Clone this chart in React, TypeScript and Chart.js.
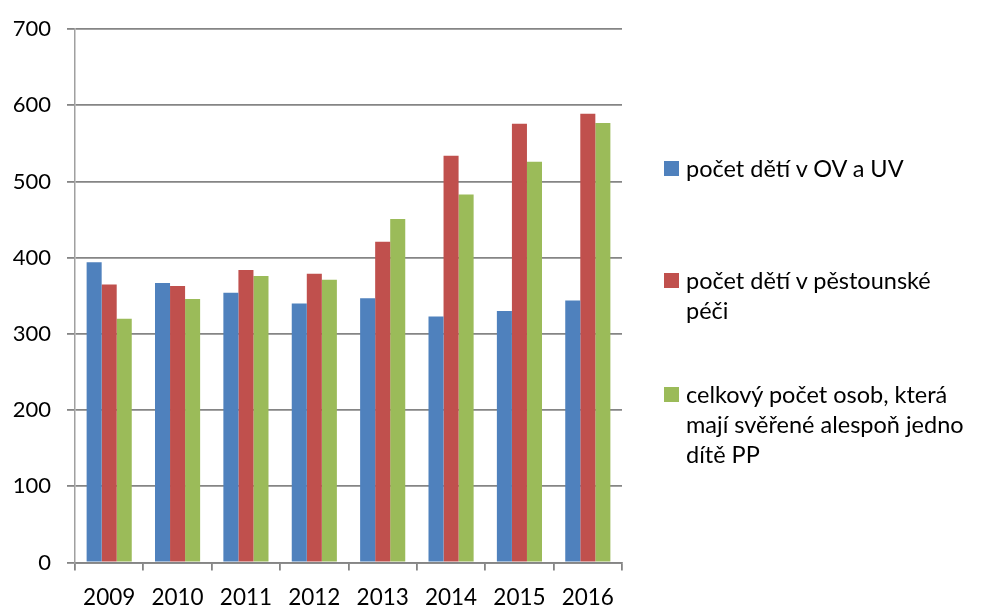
import React, { useEffect, useRef } from "react";
import { Chart, registerables } from "chart.js";

Chart.register(...registerables);

const YEARS = ["2009", "2010", "2011", "2012", "2013", "2014", "2015", "2016"];
const OV_UV = [394, 367, 354, 340, 347, 323, 330, 344];
const PESTOUNSKA_PECE = [365, 363, 384, 379, 421, 534, 576, 589];
const OSOBY_SVERENE = [320, 346, 376, 371, 451, 483, 526, 577];
const SERIES_NAMES = [
  "počet dětí v OV a UV",
  "počet dětí v pěstounské péči",
  "celkový počet osob, která mají svěřené alespoň jedno dítě PP",
];
const LEGEND_LINES = [
  ["počet dětí v OV a UV"],
  ["počet dětí v pěstounské", "péči"],
  ["celkový počet osob, která", "mají svěřené alespoň jedno", "dítě PP"],
];
const COLORS = ["#4F81BD", "#C0504D", "#9BBB59"];
const Y_MIN = 0;
const Y_MAX = 700;
const Y_STEP = 100;

const FONT_FAMILY = "Lato, 'Open Sans', sans-serif";
const LEGEND_TOPS = [153, 265, 379];

export default function App() {
  const canvasRef = useRef<HTMLCanvasElement | null>(null);

  useEffect(() => {
    const canvas = canvasRef.current;
    if (!canvas) return;
    const yFont = { family: FONT_FAMILY, size: 22 };
    const xFont = { family: FONT_FAMILY, size: 22.5 };
    const chart = new Chart(canvas, {
      type: "bar",
      data: {
        labels: YEARS,
        datasets: [OV_UV, PESTOUNSKA_PECE, OSOBY_SVERENE].map((d, i) => ({
          label: SERIES_NAMES[i],
          data: d,
          backgroundColor: COLORS[i],
          borderWidth: 0,
          categoryPercentage: 0.66,
          barPercentage: 1.0,
        })),
      },
      options: {
        responsive: false,
        animation: false,
        layout: { padding: { top: 25, right: 362, bottom: 0, left: 0 } },
        plugins: { legend: { display: false }, tooltip: { enabled: false } },
        scales: {
          x: {
            grid: {
              offset: true,
              drawOnChartArea: false,
              drawTicks: true,
              tickLength: 8,
              color: "#858585",
              lineWidth: 1.8,
            },
            border: { color: "#858585", width: 1.8 },
            ticks: { font: xFont, color: "#000", padding: 13.5, maxRotation: 0 },
            afterFit: (s: any) => {
              s.height = 43.5;
            },
          },
          y: {
            min: Y_MIN,
            max: Y_MAX,
            ticks: { stepSize: Y_STEP, font: yFont, color: "#000", padding: 16 },
            grid: { color: "#858585", lineWidth: 1.8, tickLength: 8 },
            border: { color: "#a0a0a0", width: 1.5 },
            afterFit: (s: any) => {
              s.width = 75;
            },
          },
        },
      },
    });
    return () => chart.destroy();
  }, []);

  return (
    <div style={{ position: "absolute", left: 0, top: 0, width: 984, height: 606, background: "#fff", overflow: "hidden" }}>
      <canvas ref={canvasRef} width={984} height={606} style={{ display: "block" }} />
      {LEGEND_LINES.map((lines, i) => (
        <div
          key={i}
          style={{
            position: "absolute",
            left: 664,
            top: LEGEND_TOPS[i],
            fontFamily: FONT_FAMILY,
            fontSize: 23.5,
            lineHeight: "30px",
            color: "#000",
            whiteSpace: "nowrap",
          }}
        >
          <span
            style={{
              position: "absolute",
              left: 0,
              top: 7.5,
              width: 15,
              height: 15,
              background: COLORS[i],
            }}
          />
          <div style={{ marginLeft: 22 }}>
            {lines.map((l, j) => (
              <div key={j}>{l}</div>
            ))}
          </div>
        </div>
      ))}
    </div>
  );
}
